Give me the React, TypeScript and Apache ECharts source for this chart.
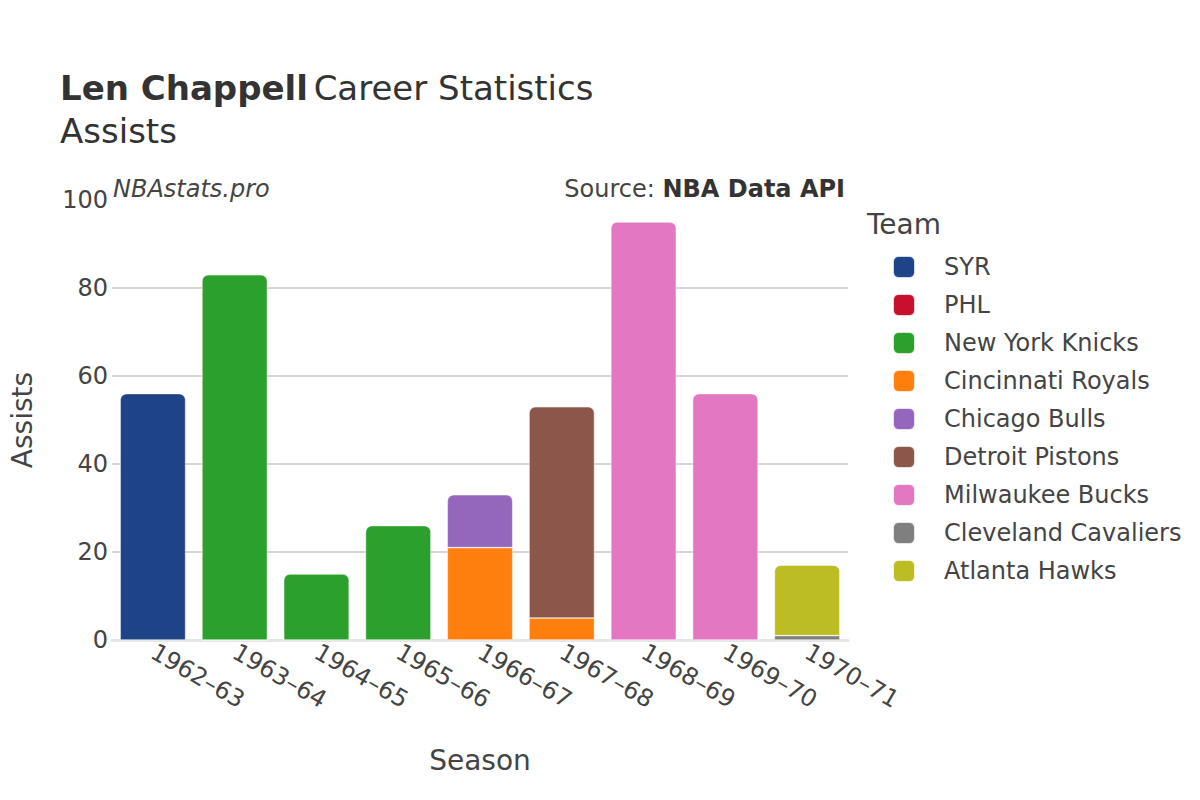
import React, { useEffect, useRef } from "react";
import * as echarts from "echarts";

const seasons = ["1962–63", "1963–64", "1964–65", "1965–66", "1966–67", "1967–68", "1968–69", "1969–70", "1970–71"];
const teams = ["SYR", "PHL", "New York Knicks", "Cincinnati Royals", "Chicago Bulls", "Detroit Pistons", "Milwaukee Bucks", "Cleveland Cavaliers", "Atlanta Hawks"];
const colors = ["#1f4387", "#c8102e", "#2ca02c", "#ff7f0e", "#9467bd", "#8c564b", "#e377c2", "#7f7f7f", "#bcbd22"];
const SYR = [56, null, null, null, null, null, null, null, null];
const PHL = [null, 0, null, null, null, null, null, null, null];
const NYK = [null, 83, 15, 26, null, null, null, null, null];
const CIN = [null, null, null, null, 21, 5, null, null, null];
const CHI = [null, null, null, null, 12, null, null, null, null];
const DET = [null, null, null, null, null, 48, null, null, null];
const MIL = [null, null, null, null, null, null, 95, 56, null];
const CLE = [null, null, null, null, null, null, null, null, 1];
const ATL = [null, null, null, null, null, null, null, null, 16];
const values = [SYR, PHL, NYK, CIN, CHI, DET, MIL, CLE, ATL];
const yTicks = [0, 20, 40, 60, 80, 100];

const FONT = "'DejaVu Sans', sans-serif";

export default function App() {
  const ref = useRef<HTMLDivElement>(null);
  useEffect(() => {
    if (!ref.current) return;
    const chart = echarts.init(ref.current, null, { renderer: "svg" });
    const topIdx = seasons.map((_, c) => {
      let t = -1;
      values.forEach((arr, s) => {
        if (arr[c] != null && (arr[c] as number) > 0) t = s;
      });
      return t;
    });
    const series = teams.map((name, s) => ({
      name,
      type: "bar",
      stack: "total",
      barCategoryGap: "20%",
      itemStyle: { color: colors[s], borderColor: "rgba(255,255,255,0.8)", borderWidth: 0.6 },
      data: values[s].map((v, c) =>
        v == null
          ? null
          : { value: v, itemStyle: { borderRadius: topIdx[c] === s ? [6, 6, 0, 0] : 0 } }
      ),
    }));
    const grid = "#c8c8c8";
    chart.setOption({
      animation: false,
      textStyle: { fontFamily: FONT },
      title: {
        left: 55,
        top: 61,
        text: "{b|Len Chappell} {n|Career Statistics}\n{n|Assists}",
        textStyle: {
          fontWeight: "normal",
          rich: {
            b: { fontFamily: FONT, fontSize: 34, fontWeight: "bold", color: "#333", lineHeight: 43 },
            n: { fontFamily: FONT, fontSize: 34, fontWeight: "normal", color: "#333", lineHeight: 43 },
          },
        },
      },
      graphic: [
        { type: "text", left: 113, top: 177, style: { text: "NBAstats.pro", fontFamily: FONT, fontSize: 24, fontStyle: "italic", fill: "#444" } },
        {
          type: "text",
          right: 355,
          top: 177,
          style: {
            text: "{n|Source: }{b|NBA Data API}",
            fill: "#444",
            rich: {
              n: { fontFamily: FONT, fontSize: 24, fill: "#444" },
              b: { fontFamily: FONT, fontSize: 24, fontWeight: "bold", fill: "#333" },
            },
          },
        },
        { type: "text", left: 867, top: 210, style: { text: "Team", fontFamily: FONT, fontSize: 28, fill: "#444" } },
      ],
      legend: {
        orient: "vertical",
        left: 887,
        top: 250,
        itemWidth: 22,
        itemHeight: 22,
        itemGap: 14,
        icon: "roundRect",
        data: teams,
        textStyle: { fontFamily: FONT, fontSize: 24, lineHeight: 24, color: "#444", padding: [0, 0, 0, 24] },
      },
      grid: { left: 108, right: 352, top: 200, bottom: 160, containLabel: false },
      xAxis: {
        type: "category",
        data: seasons,
        name: "Season",
        nameLocation: "middle",
        nameGap: 106,
        nameTextStyle: { fontFamily: FONT, fontSize: 28, color: "#444" },
        axisLine: { show: true, lineStyle: { color: "#e6e6e6", width: 3 } },
        axisTick: { show: false },
        axisLabel: { rotate: -30, fontSize: 24, color: "#444", margin: 10, fontFamily: FONT },
      },
      yAxis: {
        type: "value",
        min: 0,
        max: 100,
        interval: 20,
        name: "Assists",
        nameLocation: "middle",
        nameGap: 76,
        nameTextStyle: { fontFamily: FONT, fontSize: 28, color: "#444" },
        axisLabel: { fontSize: 24, color: "#444", margin: 4, fontFamily: FONT, formatter: (v: number) => (yTicks.includes(v) ? String(v) : "") },
        splitLine: { lineStyle: { color: [grid, grid, grid, grid, grid, "rgba(0,0,0,0)"], width: 1.5 } },
        axisLine: { show: false },
        axisTick: { show: false },
      },
      series,
    });
    return () => chart.dispose();
  }, []);
  return <div ref={ref} style={{ position: "fixed", left: 0, top: 0, width: 1200, height: 800, background: "#fff" }} />;
}
